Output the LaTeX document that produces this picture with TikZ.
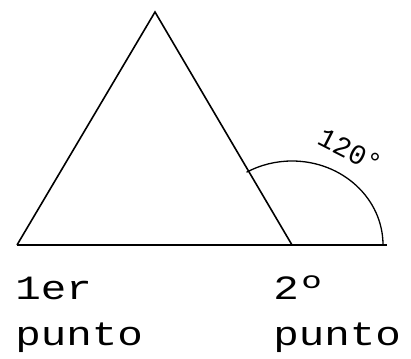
\documentclass[tikz,border=0pt]{standalone}
\usepackage{fontspec}
\newfontfamily\cadfont{Liberation Mono}
\begin{document}
\begin{tikzpicture}[x=1pt,y=-1pt,
  edge/.style={line width=1.6pt, line join=miter},
  lbl/.style={font=\cadfont\fontsize{34}{36}\selectfont, inner sep=0pt, anchor=base west, xscale=1.25, transform shape}]
\useasboundingbox (0,0) rectangle (411,358);
\coordinate (A) at (17,245);
\coordinate (B) at (292,245);
\coordinate (C) at (155,12);
\coordinate (E) at (387,245);
\draw[edge] (A) -- (C) -- (B);
\draw[edge] (A) -- (E);
\draw[line width=1.3pt] (383,245) arc[start angle=0, end angle=120, x radius=91, y radius=-84];
\node[font=\cadfont\fontsize{28}{30}\selectfont, rotate=-27, inner sep=0pt] (ang) at (350,151) {120°};
\node[lbl] (p1a) at (15,299) {1er};
\node[lbl] (p1b) at (15,345) {punto};
\node[lbl] (p2a) at (273,299) {2º};
\node[lbl] (p2b) at (273,345) {punto};
\end{tikzpicture}
\end{document}
